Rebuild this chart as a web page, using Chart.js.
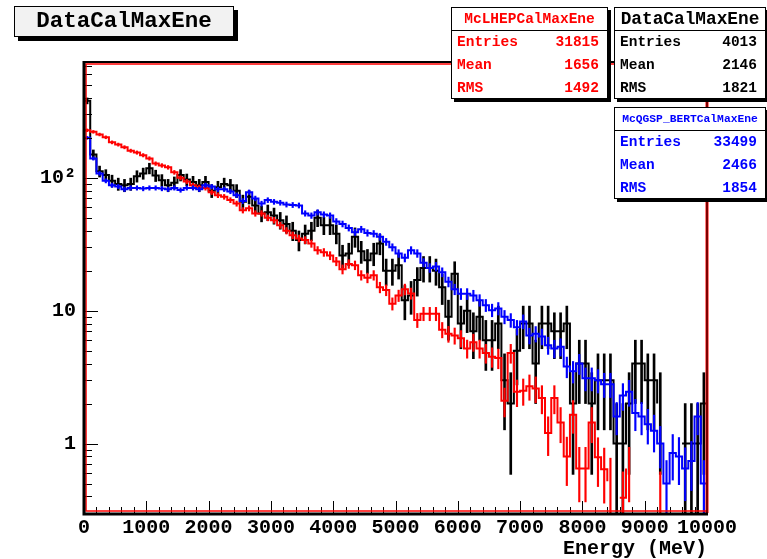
<!DOCTYPE html>
<html>
<head>
<meta charset="utf-8">
<script src="https://cdn.jsdelivr.net/npm/chart.js@4.4.1/dist/chart.umd.min.js"></script>
<style>
    html, body { margin: 0; padding: 0; background: #fff; }
    #wrap { position: relative; width: 767px; height: 559px; overflow: hidden;
            font-family: "Liberation Mono", monospace; font-weight: bold; }
    #histo { position: absolute; left: 0; top: 0; }
    .box { position: absolute; background: #fff; border: 1px solid #000;
           box-shadow: 3px 3px 0 #000; box-sizing: border-box; }
    .title-box { left: 14px; top: 6px; width: 220px; height: 31px; background: #f2f2f2;
                 font-size: 22.5px; line-height: 29px; text-align: center; box-shadow: 4px 4px 0 #000; }
    .stats { width: 157px; height: 92px; }
    .stats .head { height: 23px; line-height: 22px; border-bottom: 1px solid #000;
                   box-sizing: border-box; text-align: center; white-space: nowrap; }
    .stats .row { height: 23px; line-height: 23px; display: flex; justify-content: space-between;
                  padding: 0 8px 0 5px; font-size: 14.5px; }
</style>
</head>
<body>
<div id="wrap">
    <canvas id="histo" width="767" height="559"></canvas>
    <div class="box title-box">DataCalMaxEne</div>
    <div class="box stats" id="stats-lhep" style="left:451px; top:7px; color:#ff0000;"></div>
    <div class="box stats" id="stats-data" style="left:614px; top:7px; width:152px; color:#000;"></div>
    <div class="box stats" id="stats-qgsp" style="left:614px; top:107px; width:152px; color:#0000ff;"></div>
</div>
<script>
    // axis ranges and ticks
    const xMin = 0;
    const xMax = 10000;
    const xTickValues = [0, 1000, 2000, 3000, 4000, 5000, 6000, 7000, 8000, 9000, 10000];
    const xTickLabels = ['0', '1000', '2000', '3000', '4000', '5000', '6000', '7000', '8000', '9000', '10000'];
    const yMin = 0.303;
    const yMax = 745;
    const yTickValues = [1, 10, 100];
    const yTickLabels = ['1', '10', '10\u00b2'];

    // bin contents, 100 MeV bins
    const mcLhepCounts = [
        228, 222, 212, 202, 185, 178, 170, 160, 155, 148,
        140, 128, 124, 120, 110, 100, 94, 88, 85, 84,
        78, 74, 72, 68, 64, 57, 59, 54, 54, 50,
        48, 44, 40, 37, 35, 34, 32, 28.5, 27.5, 26,
        23.5, 20.5, 22.5, 22, 18.5, 17.7, 18.5, 15, 14.3, 11.3,
        13, 14.5, 13.5, 8.5, 9.5, 9.5, 9.5, 7.2, 6.7, 6.5,
        6.2, 5.2, 5.8, 5.2, 4.8, 4.5, 4.4, 2.1, 4.8, 2.45,
        2.5, 2.7, 2.6, 2.2, 1.2, 2.2, 1.44, 0.8, 1.65, 0.65,
        0.65, 1.44, 0.79, 0.64, 0.52, 0, 0.39, 0.65, 0, 0,
        0, 0, 0.39, 0, 0, 0, 0, 0, 0, 0
    ];
    const dataCounts = [
        380, 150, 112, 105, 95, 90, 88, 90, 103, 108,
        118, 104, 96, 88, 92, 105, 97, 93, 88, 93,
        80, 85, 90, 88, 80, 66, 72, 62, 54, 55,
        52, 48, 45, 40, 34, 38, 40, 50, 44, 44,
        38, 26, 27, 36, 28, 24, 27, 32, 20, 20,
        22, 12, 13, 17, 21, 21, 20, 15, 9, 19,
        8, 10, 7, 9, 6, 6, 8, 3, 2, 5,
        8, 8, 4, 8, 8, 7, 7, 8, 2, 4,
        4, 2, 3, 3, 3, 1, 1, 2, 4, 4,
        3, 3, 2, 0, 0, 0, 1, 1, 1, 2
    ];
    const mcQgspCounts = [
        200, 140, 108, 95, 88, 86, 82, 84, 84, 83,
        84, 84, 83, 82, 84, 81, 84, 84, 82, 88,
        86, 82, 82, 79, 74, 67, 78, 70, 64, 68,
        66, 65, 63, 62.5, 62, 54, 52, 55, 53, 52,
        47, 45, 42, 39, 41, 38.5, 38, 36, 33, 30,
        27, 25, 28.5, 27, 23, 21, 21.5, 19.5, 16.5, 14.5,
        13.4, 13.4, 13, 12, 11, 10.1, 10.4, 9, 8.5, 7.5,
        8.3, 6.5, 6.7, 6.4, 5.5, 5.2, 5.35, 3.8, 3.5, 4,
        3.1, 3.1, 3, 2.8, 2.8, 1.6, 2.3, 2.45, 1.7, 1.6,
        1.4, 1.25, 1.0, 0.5, 0.85, 0.8, 0.65, 0.74, 1.6, 0.5
    ];

    // stats boxes
    const statLabels = ['Entries', 'Mean', 'RMS'];
    const mcLhepStats = ['31815', '1656', '1492'];
    const dataStats = ['4013', '2146', '1821'];
    const mcQgspStats = ['33499', '2466', '1854'];

    const nBins = dataCounts.length;
    const binWidth = (xMax - xMin) / nBins;
    const binEdges = [];
    for (let i = 0; i <= nBins; i++) binEdges.push(xMin + i * binWidth);

    function stepPoints(values) {
        const pts = values.map((v, i) => ({ x: binEdges[i], y: v }));
        pts.push({ x: binEdges[nBins], y: values[nBins - 1] });
        return pts;
    }

    // sqrt(N) errors; MC histograms were scaled to the data entries
    function errorBars(values, weight) {
        return values.map((v, i) => {
            if (v <= 0) return null;
            const e = Math.sqrt(v * weight);
            return { x: (binEdges[i] + binEdges[i + 1]) / 2, y: [Math.max(v - e, 0.01), v + e] };
        }).filter(p => p);
    }

    function fillStats(id, title, titleSize, values) {
        const el = document.getElementById(id);
        el.innerHTML = `<div class="head" style="font-size:${titleSize}px">${title}</div>` +
            statLabels.map((l, i) => `<div class="row"><span>${l}</span><span>${values[i]}</span></div>`).join('');
    }

    fillStats('stats-lhep', 'McLHEPCalMaxEne', 14.5, mcLhepStats);
    fillStats('stats-data', 'DataCalMaxEne', 17.8, dataStats);
    fillStats('stats-qgsp', 'McQGSP_BERTCalMaxEne', 11.3, mcQgspStats);

    const dataEntries = parseInt(dataStats[0]);
    const lhepWeight = dataEntries / parseInt(mcLhepStats[0]);
    const qgspWeight = dataEntries / parseInt(mcQgspStats[0]);

    const axisFont = { family: '"Liberation Mono", monospace', size: 20, weight: 'bold' };

    // ROOT-like frame with inward ticks
    const rootFrame = {
        id: 'rootFrame',
        afterDraw(chart) {
            const { ctx, chartArea: a, scales: { x, y } } = chart;
            ctx.save();
            ctx.strokeStyle = '#000';
            ctx.lineWidth = 1;
            ctx.beginPath();
            for (let v = xMin; v <= xMax; v += 200) {
                const px = Math.round(x.getPixelForValue(v)) + 0.5;
                const len = v % 1000 === 0 ? 12 : 6;
                ctx.moveTo(px, a.bottom);
                ctx.lineTo(px, a.bottom - len);
            }
            for (let k = -1; k <= 2; k++) {
                for (let m = 1; m < 10; m++) {
                    const v = m * Math.pow(10, k);
                    if (v < yMin || v > yMax) continue;
                    const py = Math.round(y.getPixelForValue(v)) + 0.5;
                    const len = m === 1 ? 14 : 8;
                    ctx.moveTo(a.left, py);
                    ctx.lineTo(a.left + len, py);
                }
            }
            ctx.stroke();

            // red inner outline
            ctx.strokeStyle = '#ff0000';
            ctx.lineWidth = 1.5;
            ctx.strokeRect(a.left + 2, a.top + 2, a.right - a.left - 2, a.bottom - a.top - 4);
            ctx.lineWidth = 3;
            ctx.beginPath();
            ctx.moveTo(a.right, a.top);
            ctx.lineTo(a.right, a.bottom);
            ctx.stroke();

            // black frame
            ctx.strokeStyle = '#000';
            ctx.lineWidth = 2;
            ctx.beginPath();
            ctx.moveTo(a.left, a.top);
            ctx.lineTo(a.right, a.top);
            ctx.stroke();
            ctx.lineWidth = 3;
            ctx.beginPath();
            ctx.moveTo(a.left, a.top - 1);
            ctx.lineTo(a.left, a.bottom + 1);
            ctx.lineTo(a.right + 1, a.bottom + 1);
            ctx.stroke();
            ctx.lineWidth = 1;
            ctx.beginPath();
            ctx.moveTo(a.right, a.top);
            ctx.lineTo(a.right, a.bottom);
            ctx.stroke();
            ctx.restore();
        }
    };

    const ctx = document.getElementById('histo').getContext('2d');
    const chart = new Chart(ctx, {
        type: 'line',
        data: {
            datasets: [
                { label: 'McQGSP_BERT', data: stepPoints(mcQgspCounts), borderColor: '#0000ff',
                  borderWidth: 2, stepped: 'before', pointRadius: 0, fill: false, order: 0 },
                { type: 'bar', label: 'McQGSP_BERT err', data: errorBars(mcQgspCounts, qgspWeight),
                  backgroundColor: '#0000ff', barThickness: 1.5, grouped: false, order: 0 },
                { label: 'McLHEP', data: stepPoints(mcLhepCounts), borderColor: '#ff0000',
                  borderWidth: 2, stepped: 'before', pointRadius: 0, fill: false, order: 1 },
                { type: 'bar', label: 'McLHEP err', data: errorBars(mcLhepCounts, lhepWeight),
                  backgroundColor: '#ff0000', barThickness: 1.5, grouped: false, order: 1 },
                { label: 'Data', data: stepPoints(dataCounts), borderColor: '#000000',
                  borderWidth: 2, stepped: 'before', pointRadius: 0, fill: false, order: 2 },
                { type: 'bar', label: 'Data err', data: errorBars(dataCounts, 1),
                  backgroundColor: '#000000', barThickness: 2, grouped: false, order: 2 }
            ]
        },
        options: {
            responsive: false,
            animation: false,
            devicePixelRatio: 1,
            layout: { padding: { top: 62, right: 60, left: 0, bottom: 0 } },
            plugins: { legend: { display: false }, tooltip: { enabled: false } },
            scales: {
                x: {
                    type: 'linear', min: xMin, max: xMax, offset: false,
                    grid: { display: false, drawTicks: false }, border: { display: false },
                    afterFit: s => { s.height = 46; s.paddingLeft = 0; s.paddingRight = 0; },
                    afterBuildTicks: s => { s.ticks = xTickValues.map(v => ({ value: v })); },
                    ticks: {
                        autoSkip: false, maxRotation: 0, padding: 3, color: '#000', font: axisFont,
                        callback: v => xTickLabels[xTickValues.indexOf(v)]
                    },
                    title: { display: true, text: 'Energy (MeV)', align: 'end', color: '#000',
                             font: axisFont, padding: { top: 0, bottom: -2 } }
                },
                y: {
                    type: 'logarithmic', min: yMin, max: yMax,
                    grid: { display: false, drawTicks: false }, border: { display: false },
                    afterFit: s => { s.width = 84; s.paddingTop = 0; s.paddingBottom = 0; },
                    afterBuildTicks: s => { s.ticks = yTickValues.map(v => ({ value: v })); },
                    ticks: {
                        autoSkip: false, padding: 8, color: '#000', font: axisFont,
                        callback: v => yTickLabels[yTickValues.indexOf(v)]
                    }
                }
            }
        },
        plugins: [rootFrame]
    });
</script>
</body>
</html>
